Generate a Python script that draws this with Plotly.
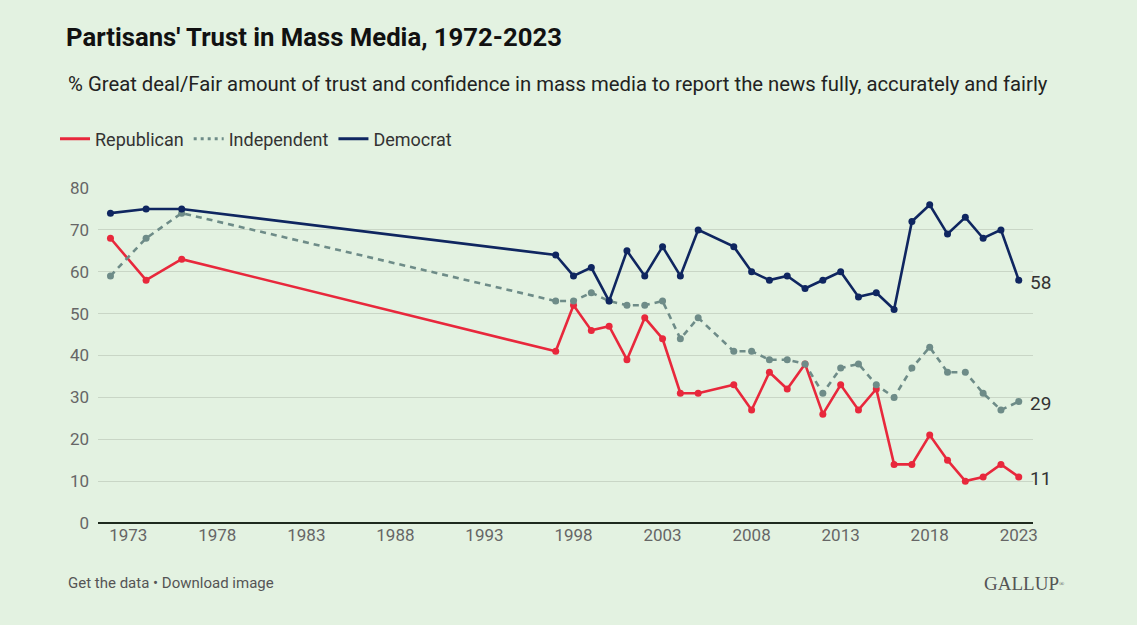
import plotly.graph_objects as go

years = [1972, 1974, 1976, 1997, 1998, 1999, 2000, 2001, 2002, 2003, 2004, 2005,
         2007, 2008, 2009, 2010, 2011, 2012, 2013, 2014, 2015, 2016, 2017, 2018,
         2019, 2020, 2021, 2022, 2023]
republican = [68, 58, 63, 41, 52, 46, 47, 39, 49, 44, 31, 31,
              33, 27, 36, 32, 38, 26, 33, 27, 32, 14, 14, 21,
              15, 10, 11, 14, 11]
independent = [59, 68, 74, 53, 53, 55, 53, 52, 52, 53, 44, 49,
               41, 41, 39, 39, 38, 31, 37, 38, 33, 30, 37, 42,
               36, 36, 31, 27, 29]
democrat = [74, 75, 75, 64, 59, 61, 53, 65, 59, 66, 59, 70,
            66, 60, 58, 59, 56, 58, 60, 54, 55, 51, 72, 76,
            69, 73, 68, 70, 58]
x_ticks = [1973, 1978, 1983, 1988, 1993, 1998, 2003, 2008, 2013, 2018, 2023]
y_ticks = [0, 10, 20, 30, 40, 50, 60, 70, 80]

RED = "#E8283C"
GRAY = "#6E8C88"
NAVY = "#0F2660"
BG = "#E3F2E1"

series = [
    ("Republican", republican, RED, "solid"),
    ("Independent", independent, GRAY, "6px,5px"),
    ("Democrat", democrat, NAVY, "solid"),
]

PL, PR, PT, PB = 98, 104, 188, 102
PW, PH = 1137 - PL - PR, 625 - PT - PB

fig = go.Figure()
for name, vals, col, dash in series:
    fig.add_trace(go.Scatter(x=[None], y=[None], mode="lines", name=name,
                             line=dict(color=col, width=3, dash=dash if dash == "solid" else "3px,4px"),
                             showlegend=True, hoverinfo="skip"))
for name, vals, col, dash in series:
    fig.add_trace(go.Scatter(x=years, y=vals, mode="lines+markers", name=name,
                             line=dict(color=col, width=2.6, dash=dash),
                             marker=dict(color=col, size=7),
                             showlegend=False))

for name, vals, col, dash in series:
    fig.add_annotation(x=years[-1], y=vals[-1], text=str(vals[-1]), showarrow=False,
                       xanchor="left", xshift=9, yshift=-2,
                       font=dict(family="Roboto", size=19, color="#333333"))

fig.update_layout(
    width=1137, height=625,
    paper_bgcolor=BG, plot_bgcolor=BG,
    margin=dict(l=PL, r=PR, t=PT, b=PB),
    font=dict(family="Roboto", color="#666666"),
    title=dict(text="<b>Partisans' Trust in Mass Media, 1972-2023</b>",
               x=66 / 1137, xanchor="left", y=1 - 37 / 625, yanchor="middle",
               font=dict(family="Roboto", size=25.7, color="#111111")),
    legend=dict(orientation="h", x=(55 - PL) / PW, xref="paper",
                y=1 + (PT - 139) / PH, yref="paper", xanchor="left", yanchor="middle",
                font=dict(family="Roboto", size=18, color="#333333"),
                itemwidth=30, tracegroupgap=0, bgcolor="rgba(0,0,0,0)"),
    showlegend=True,
    xaxis=dict(range=[1971.3, 2023.8], tickvals=x_ticks, showgrid=False,
               zeroline=False, showline=False, ticks="",
               tickfont=dict(family="Roboto", size=17, color="#666666")),
    yaxis=dict(range=[0, 80], tickvals=y_ticks, showgrid=True, gridcolor="#C9D6C6",
               gridwidth=1, zeroline=True, zerolinecolor="#1E2A1E", zerolinewidth=1.5,
               showline=False, ticks="", ticklabelstandoff=8,
               tickfont=dict(family="Roboto", size=17, color="#666666")),
)

fig.add_annotation(xref="paper", yref="paper", x=(66 - PL) / PW, y=-(583 - 523) / PH,
                   text="Get the data • Download image", showarrow=False,
                   xanchor="left", yanchor="middle",
                   font=dict(family="Roboto", size=15, color="#555555"))
fig.add_annotation(xref="paper", yref="paper", x=(1067 - PL) / PW, y=-(583 - 523) / PH,
                   text="GALLUP<span style='font-size:10px'><sup>®</sup></span>", showarrow=False,
                   xanchor="right", yanchor="middle",
                   font=dict(family="Liberation Serif", size=19, color="#555555"))
fig.add_annotation(xref="paper", yref="paper", x=(66 - PL) / PW, y=1 + (PT - 84) / PH,
                   text="% Great deal/Fair amount of trust and confidence in mass media to report the news fully, accurately and fairly",
                   showarrow=False, xanchor="left", yanchor="middle",
                   font=dict(family="Roboto", size=20.3, color="#222222"))

fig.write_html("out.html", config={"displayModeBar": False},
               post_script="document.body.style.margin='0';document.body.style.overflow='hidden';")
